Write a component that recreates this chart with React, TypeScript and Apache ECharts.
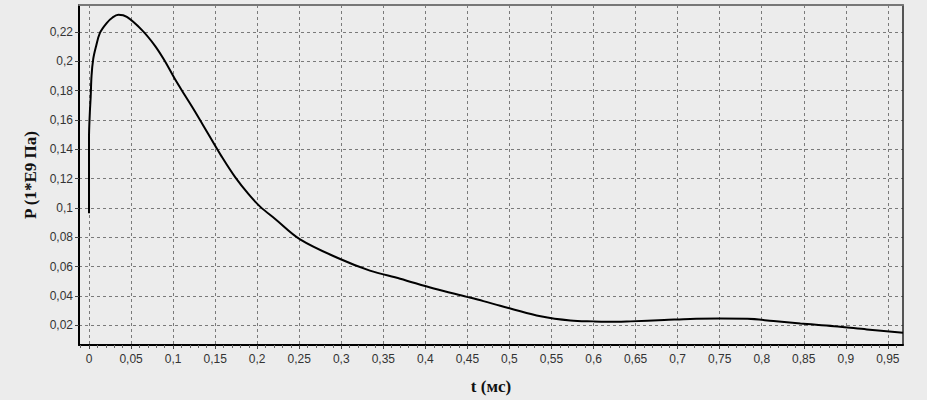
import React, { useEffect, useRef } from "react";
import * as echarts from "echarts";

const timeMs = [
  0, 0.0, 0.001, 0.002, 0.003, 0.005, 0.008, 0.013, 0.021, 0.028, 0.035, 0.045,
  0.063, 0.0785, 0.09, 0.102, 0.114, 0.126, 0.142, 0.158, 0.174, 0.19, 0.2035,
  0.2214, 0.251, 0.2987, 0.334, 0.37, 0.41, 0.4494, 0.469, 0.489, 0.501, 0.537,
  0.5724, 0.6, 0.628, 0.644, 0.684, 0.715, 0.75, 0.783, 0.814, 0.846, 0.886,
  0.925, 0.968,
];
const pressure = [
  0.0964, 0.148, 0.165, 0.1758, 0.19, 0.2014, 0.2093, 0.2193, 0.226, 0.2298, 0.2316,
  0.2302, 0.2212, 0.2105, 0.2003, 0.188, 0.1768, 0.1657, 0.1502, 0.1348, 0.1208,
  0.1092, 0.1009, 0.0925, 0.0786, 0.0652, 0.0573, 0.0518, 0.0451, 0.0394, 0.0365,
  0.0333, 0.0315, 0.0262, 0.0233, 0.0227, 0.0224, 0.0227, 0.0236, 0.0244, 0.0246,
  0.0245, 0.0229, 0.0212, 0.0194, 0.0172, 0.0149,
];

const xTicks = [
  0, 0.05, 0.1, 0.15, 0.2, 0.25, 0.3, 0.35, 0.4, 0.45, 0.5, 0.55, 0.6, 0.65, 0.7,
  0.75, 0.8, 0.85, 0.9, 0.95,
];
const yTicks = [0.02, 0.04, 0.06, 0.08, 0.1, 0.12, 0.14, 0.16, 0.18, 0.2, 0.22];

const xMin = -0.0119;
const xMax = 0.968;
const yMin = 0.0066;
const yMax = 0.2383;

const minorXTicks: number[] = [];
for (let i = 0; i < xTicks.length; i++) {
  for (let k = 1; k < 5; k++) {
    const v = Math.round((xTicks[i] + k * 0.01) * 1000) / 1000;
    if (v < xMax) minorXTicks.push(v);
  }
}
minorXTicks.unshift(-0.01);

const fmt = (v: number) => String(Math.round(v * 1000) / 1000).replace(".", ",");

export default function App() {
  const ref = useRef<HTMLDivElement>(null);
  useEffect(() => {
    if (!ref.current) return;
    const chart = echarts.init(ref.current, undefined, { renderer: "svg" });
    const data = timeMs.map((t, i) => [t, pressure[i]]);
    const gridLine = {
      show: true,
      lineStyle: { color: "#7a7a7a", type: [3, 3] as any, width: 1 },
    };
    const labelStyle = {
      color: "#333",
      fontFamily: "Liberation Sans, Arial, sans-serif",
      fontSize: 12,
    };
    const nameStyle = {
      fontFamily: "Liberation Serif, Times New Roman, serif",
      fontWeight: "bold",
      fontSize: 17,
      color: "#111",
    };
    chart.setOption({
      animation: false,
      backgroundColor: "#ececec",
      grid: { left: 79, top: 5, width: 824, height: 346, show: false },
      xAxis: [
        {
          type: "value",
          min: xMin,
          max: xMax,
          axisLine: { show: true, onZero: false, lineStyle: { color: "#000", width: 2 } },
          axisTick: { show: true, length: 4, customValues: xTicks, lineStyle: { color: "#444" } },
          splitLine: gridLine,
          axisLabel: { ...labelStyle, margin: 8, customValues: xTicks, formatter: fmt },
          name: "t (мс)",
          nameLocation: "middle",
          nameGap: 33,
          nameTextStyle: nameStyle,
        },
        {
          type: "value",
          position: "bottom",
          min: xMin,
          max: xMax,
          axisLine: { show: false, onZero: false },
          axisTick: { show: true, length: 3, customValues: minorXTicks, lineStyle: { color: "#666" } },
          axisLabel: { show: false },
          splitLine: { show: false },
        },
        {
          type: "value",
          position: "top",
          min: xMin,
          max: xMax,
          axisLine: { show: true, onZero: false, lineStyle: { color: "#777", width: 2 } },
          axisTick: { show: false },
          axisLabel: { show: false },
          splitLine: { show: false },
        },
      ],
      yAxis: [
        {
          type: "value",
          min: yMin,
          max: yMax,
          axisLine: { show: true, onZero: false, lineStyle: { color: "#000", width: 2 } },
          axisTick: { show: true, length: 4, customValues: yTicks, lineStyle: { color: "#444" } },
          splitLine: gridLine,
          axisLabel: { ...labelStyle, margin: 6, customValues: yTicks, formatter: fmt },
          name: "P (1*E9 Па)",
          nameLocation: "middle",
          nameGap: 40,
          nameTextStyle: nameStyle,
        },
        {
          type: "value",
          position: "right",
          min: yMin,
          max: yMax,
          axisLine: { show: true, onZero: false, lineStyle: { color: "#222", width: 1.5 } },
          axisTick: { show: false },
          axisLabel: { show: false },
          splitLine: { show: false },
        },
      ],
      series: [
        {
          type: "line",
          data,
          xAxisIndex: 0,
          yAxisIndex: 0,
          showSymbol: false,
          smooth: 0.35,
          lineStyle: { color: "#000", width: 2 },
          clip: true,
        },
      ],
    });
    return () => chart.dispose();
  }, []);
  return (
    <div
      ref={ref}
      style={{ position: "fixed", left: 0, top: 0, width: 927, height: 400, background: "#ececec" }}
    />
  );
}
